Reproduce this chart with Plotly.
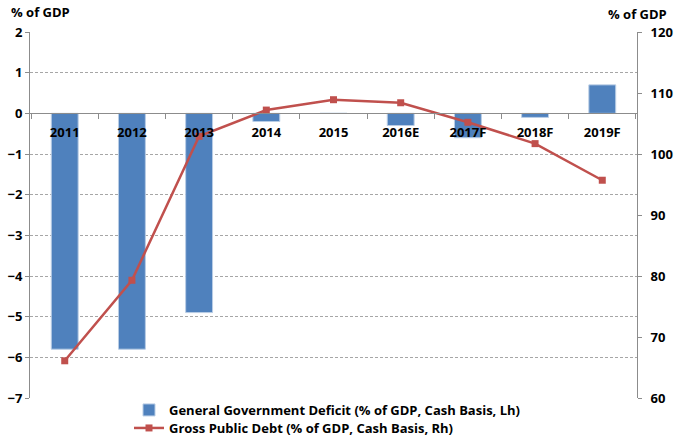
import plotly.graph_objects as go

categories = ["2011", "2012", "2013", "2014", "2015", "2016E", "2017F", "2018F", "2019F"]
deficit = [-5.8, -5.8, -4.9, -0.2, 0.0, -0.3, -0.6, -0.1, 0.7]
debt = [66.1, 79.3, 102.9, 107.2, 108.9, 108.4, 105.2, 101.7, 95.7]
left_ticks = [2, 1, 0, -1, -2, -3, -4, -5, -6, -7]
right_ticks = [60, 70, 80, 90, 100, 110, 120]

FONT = "Open Sans"
SZ = 13
bold = dict(family=FONT, size=SZ, color="#000", weight="bold")

fig = go.Figure()
fig.add_trace(go.Bar(
    x=categories, y=deficit, name="General Government Deficit (% of GDP, Cash Basis, Lh)",
    marker=dict(color="#4F81BD", line=dict(color="#B9CDE5", width=1)),
    width=0.4, yaxis="y", legend="legend",
))
fig.add_trace(go.Scatter(
    x=categories, y=debt, name="Gross Public Debt (% of GDP, Cash Basis, Rh)",
    mode="lines+markers", line=dict(color="#C0504D", width=2.5),
    marker=dict(symbol="square", size=7, color="#C0504D"), yaxis="y2",
    legend="legend2",
))

leg_common = dict(xref="container", yref="container", xanchor="left",
                  yanchor="middle", font=bold, bgcolor="rgba(0,0,0,0)",
                  itemwidth=30, borderwidth=0)

fig.update_layout(
    width=675, height=436,
    margin=dict(l=30, r=38, t=32, b=38, autoexpand=False),
    paper_bgcolor="white", plot_bgcolor="white",
    font=dict(family=FONT, size=SZ, color="#000"),
    showlegend=True,
    legend=dict(x=129/675, y=1 - 410/436, **leg_common),
    legend2=dict(x=129/675, y=1 - 428/436, **leg_common),
    xaxis=dict(
        type="category", anchor="free", position=7/9, automargin=False,
        showline=True, linecolor="#8c8c8c", linewidth=1,
        ticks="outside", ticklen=5, tickcolor="#8c8c8c", tickson="boundaries",
        tickfont=bold, ticklabelstandoff=7, showgrid=False, zeroline=False,
    ),
    yaxis=dict(
        range=[-7, 2], tickvals=left_ticks, showline=True, linecolor="#8c8c8c",
        ticks="outside", ticklen=4, tickcolor="#8c8c8c", automargin=False,
        showgrid=True, gridcolor="#a6a6a6", griddash="3px,2px", gridwidth=1,
        zeroline=False, tickfont=bold,
    ),
    yaxis2=dict(
        range=[60, 120], tickvals=right_ticks, overlaying="y", side="right",
        showline=True, linecolor="#8c8c8c", ticks="outside", ticklen=4,
        tickcolor="#8c8c8c", showgrid=False, zeroline=False, automargin=False,
        ticklabelstandoff=6, tickfont=bold,
    ),
    annotations=[
        dict(text="% of GDP", xref="paper", yref="paper", x=-0.035, y=1.025,
             xanchor="left", yanchor="bottom", showarrow=False, font=bold),
        dict(text="% of GDP", xref="paper", yref="paper", x=1.052, y=1.02,
             xanchor="right", yanchor="bottom", showarrow=False, font=bold),
    ],
)

fig.write_html("out.html")
